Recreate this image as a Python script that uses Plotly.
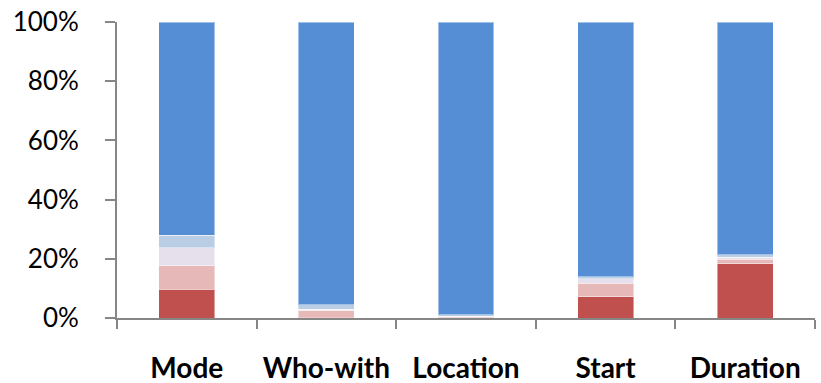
import plotly.graph_objects as go

# Share of each response class per attribute (stacked to 100%)
categories = ["Mode", "Who-with", "Location", "Start", "Duration"]
series_names = ["Class 1", "Class 2", "Class 3", "Class 4", "Class 5"]
class1 = [0.097, 0.003, 0.001, 0.071, 0.184]
class2 = [0.079, 0.021, 0.003, 0.046, 0.014]
class3 = [0.062, 0.005, 0.002, 0.015, 0.007]
class4 = [0.041, 0.015, 0.005, 0.008, 0.008]
class5 = [0.721, 0.956, 0.989, 0.860, 0.787]

colors = ["#C0504D", "#E6B9B8", "#E6E0EC", "#B9CDE5", "#558ED5"]

fig = go.Figure()
for name, vals, col in zip(series_names, [class1, class2, class3, class4, class5], colors):
    fig.add_trace(go.Bar(
        x=categories, y=vals, name=name,
        marker=dict(color=col, line=dict(color="rgba(255,255,255,0.45)", width=1)),
    ))

fig.update_layout(
    barmode="stack",
    bargap=0.6,
    width=821, height=383,
    margin=dict(l=117, r=6, t=22, b=65),
    paper_bgcolor="white", plot_bgcolor="white",
    showlegend=False,
    font=dict(family="Lato, Arial, sans-serif", color="#000000"),
)
fig.update_xaxes(
    automargin=False,
    showline=True, linecolor="#868686", linewidth=2,
    ticks="outside", ticklen=9, tickwidth=2, tickcolor="#868686",
    tickson="boundaries",
    tickfont=dict(size=28, family="Lato, Arial, sans-serif", weight="bold"),
    ticklabelstandoff=24,
    showgrid=False,
)
fig.update_yaxes(
    automargin=False,
    range=[0, 1], tickvals=[0, 0.2, 0.4, 0.6, 0.8, 1.0], tickformat=".0%",
    showline=True, linecolor="#868686", linewidth=2,
    ticks="outside", ticklen=10, tickwidth=2, tickcolor="#868686",
    tickfont=dict(size=26),
    ticklabelstandoff=21,
    showgrid=False, zeroline=False,
)

fig.write_html("out.html")
